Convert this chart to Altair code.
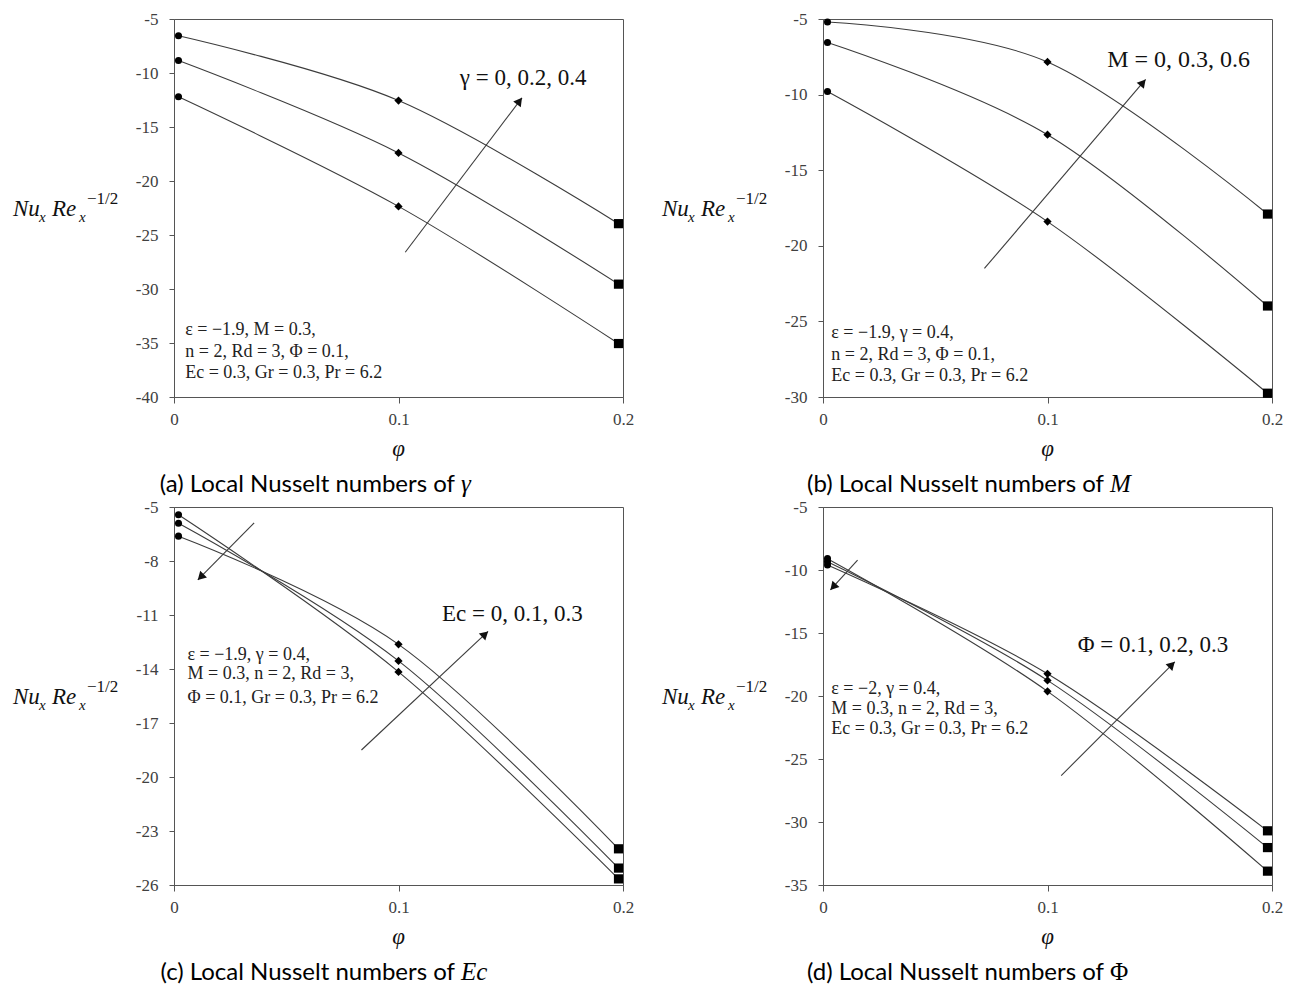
import math
import altair as alt
import pandas as pd

# ---------------- data ----------------
PHI = [0.002, 0.1, 0.198]
SHAPES = ["circle", "diamond", "square"]

A_NAMES = ["γ = 0", "γ = 0.2", "γ = 0.4"]
A_VALUES = [[-12.2, -22.35, -35.05], [-8.85, -17.4, -29.55], [-6.55, -12.55, -23.95]]

B_NAMES = ["M = 0", "M = 0.3", "M = 0.6"]
B_VALUES = [[-9.8, -18.4, -29.75], [-6.55, -12.65, -23.98], [-5.2, -7.84, -17.9]]

C_NAMES = ["Ec = 0", "Ec = 0.1", "Ec = 0.3"]
C_VALUES = [[-5.43, -14.16, -25.66], [-5.9, -13.55, -25.06], [-6.62, -12.63, -23.99]]

D_NAMES = ["Φ = 0.1", "Φ = 0.2", "Φ = 0.3"]
D_VALUES = [[-9.1, -19.63, -33.9], [-9.35, -18.76, -32.03], [-9.6, -18.24, -30.7]]

X_TICKS = [0, 0.1, 0.2]
A_YTICKS = [-5, -10, -15, -20, -25, -30, -35, -40]
B_YTICKS = [-5, -10, -15, -20, -25, -30]
C_YTICKS = [-5, -8, -11, -14, -17, -20, -23, -26]
D_YTICKS = [-5, -10, -15, -20, -25, -30, -35]

# ---------------- layout / annotations ----------------
W, H = 449, 378
XDOM = [0, 0.2]
LINE_COLOR = "#3c3c3c"
AX_COLOR = "#555555"
SERIF = "Liberation Serif"
ONE = pd.DataFrame({"k": [0]})

PANELS = [
    dict(names=A_NAMES, values=A_VALUES, ydom=[-40, -5], yticks=A_YTICKS,
         label="γ = 0,  0.2,  0.4", label_pos=(0.1273, -10.42), label_size=23,
         params=["ε = −1.9, M = 0.3,", "n = 2, Rd = 3, Φ = 0.1,", "Ec = 0.3, Gr = 0.3, Pr = 6.2"],
         params_x=0.005, params_y=[-33.8, -35.8, -37.8],
         arrows=[(0.103, -26.6, 0.155, -12.3)],
         caption=("(a) Local Nusselt numbers of", "γ", "italic")),
    dict(names=B_NAMES, values=B_VALUES, ydom=[-30, -5], yticks=B_YTICKS,
         label="M = 0,  0.3,  0.6", label_pos=(0.1266, -7.73), label_size=24,
         params=["ε = −1.9, γ = 0.4,", "n = 2, Rd = 3, Φ = 0.1,", "Ec = 0.3, Gr = 0.3, Pr = 6.2"],
         params_x=0.0037, params_y=[-25.78, -27.2, -28.62],
         arrows=[(0.0719, -21.5, 0.1437, -9.0)],
         caption=("(b) Local Nusselt numbers of", "M", "italic")),
    dict(names=C_NAMES, values=C_VALUES, ydom=[-26, -5], yticks=C_YTICKS,
         label="Ec = 0,  0.1,  0.3", label_pos=(0.1194, -10.97), label_size=23,
         params=["ε = −1.9, γ = 0.4,", "M = 0.3, n = 2, Rd = 3,", "Φ = 0.1, Gr = 0.3, Pr = 6.2"],
         params_x=0.006, params_y=[-13.2, -14.3, -15.6],
         arrows=[(0.0835, -18.5, 0.1399, -11.91), (0.0357, -5.88, 0.0106, -9.05)],
         caption=("(c) Local Nusselt numbers of", "Ec", "italic")),
    dict(names=D_NAMES, values=D_VALUES, ydom=[-35, -5], yticks=D_YTICKS,
         label="Φ = 0.1,  0.2,  0.3", label_pos=(0.1135, -15.97), label_size=23,
         params=["ε = −2, γ = 0.4,", "M = 0.3, n = 2, Rd = 3,", "Ec = 0.3, Gr = 0.3, Pr = 6.2"],
         params_x=0.0037, params_y=[-19.45, -21.0, -22.6],
         arrows=[(0.1061, -26.32, 0.1567, -17.29), (0.0154, -9.21, 0.0033, -11.58)],
         caption=("(d) Local Nusselt numbers of", "Φ", "normal")),
]

HEAD_SIZE = 90


def arrow_layers(x1, y1, x2, y2, ydom):
    xr = XDOM[1] - XDOM[0]
    yr = ydom[1] - ydom[0]
    dxp = (x2 - x1) / xr * W
    dyp = -(y2 - y1) / yr * H
    L = math.hypot(dxp, dyp)
    ux, uy = dxp / L, dyp / L
    angle = math.degrees(math.atan2(ux, -uy)) % 360
    h = math.sqrt(3) / 2 * math.sqrt(HEAD_SIZE) / 2
    cx = x2 - h * ux * xr / W
    cy = y2 + h * uy * yr / H
    rule = alt.Chart(ONE).mark_rule(color=LINE_COLOR, strokeWidth=1.1).encode(
        x=alt.datum(x1), y=alt.datum(y1), x2=alt.datum(x2), y2=alt.datum(y2))
    head = alt.Chart(ONE).mark_point(shape="triangle-up", filled=True, opacity=1,
                                     size=HEAD_SIZE, angle=angle, color="#111").encode(
        x=alt.datum(cx), y=alt.datum(cy))
    return [rule, head]


def text_value(txt, x, y, size, style="normal", font=SERIF, align="left", baseline="alphabetic", color="#111"):
    return alt.Chart(ONE).mark_text(text=txt, font=font, fontSize=size, fontStyle=style,
                                    align=align, baseline=baseline, color=color).encode(
        x=alt.value(x), y=alt.value(y))


def make_panel(p):
    rows = []
    for name, vals in zip(p["names"], p["values"]):
        for i, (phi, v) in enumerate(zip(PHI, vals)):
            rows.append({"phi": phi, "val": v, "series": name, "pt": SHAPES[i]})
    df = pd.DataFrame(rows)

    xs = alt.Scale(domain=XDOM, nice=False, zero=False)
    ys = alt.Scale(domain=p["ydom"], nice=False, zero=False)
    X = alt.X("phi:Q", scale=xs, axis=alt.Axis(
        values=X_TICKS, labelExpr="'' + datum.value", title=None, grid=False,
        tickSize=6, labelPadding=8, labelFlush=False, labelOverlap=False))
    Y = alt.Y("val:Q", scale=ys, axis=alt.Axis(
        values=p["yticks"], labelExpr="'' + datum.value", title=None, grid=False,
        tickSize=5, labelPadding=11, labelFlush=False, labelOverlap=False))

    layers = []
    layers.append(alt.Chart(df).mark_line(interpolate="cardinal", color=LINE_COLOR, strokeWidth=1.1)
                  .encode(x=X, y=Y, detail="series:N"))
    layers.append(alt.Chart(df).mark_point(filled=True, opacity=1, color="#000")
                  .encode(x=X, y=Y,
                          shape=alt.Shape("pt:N", scale=alt.Scale(domain=SHAPES, range=SHAPES), legend=None),
                          size=alt.Size("pt:N", scale=alt.Scale(domain=SHAPES, range=[50, 85, 60]), legend=None)))
    for a in p["arrows"]:
        layers += arrow_layers(*a, p["ydom"])

    lx, ly = p["label_pos"]
    layers.append(alt.Chart(ONE).mark_text(text=p["label"], font=SERIF, fontSize=p["label_size"],
                                           align="left", baseline="middle", color="#111")
                  .encode(x=alt.datum(lx), y=alt.datum(ly)))
    for txt, py in zip(p["params"], p["params_y"]):
        layers.append(alt.Chart(ONE).mark_text(text=txt, font=SERIF, fontSize=18,
                                               align="left", baseline="middle", color="#222")
                      .encode(x=alt.datum(p["params_x"]), y=alt.datum(py)))

    # y-axis label  Nu_x Re_x^(-1/2)
    bx, by = -161, round(0.52 * H)
    layers.append(text_value("Nu", bx, by, 23, "italic"))
    layers.append(text_value("x", bx + 26, by + 6, 15, "italic"))
    layers.append(text_value("Re", bx + 39, by, 23, "italic"))
    layers.append(text_value("x", bx + 66, by + 6, 15, "italic"))
    layers.append(text_value("−1/2", bx + 74, by - 12, 17))

    # x-axis label
    layers.append(text_value("φ", W / 2, H + 52, 23, "italic", align="center", baseline="middle"))

    # caption
    main, sym, sym_style = p["caption"]
    layers.append(text_value(main, 281, H + 95, 24, font="Lato", align="right", color="#000"))
    layers.append(text_value(sym, 287, H + 95, 25, sym_style, align="left", color="#000"))

    return alt.layer(*layers).properties(width=W, height=H)


panels = [make_panel(p) for p in PANELS]
chart = alt.concat(*panels, columns=2, spacing={"row": 110, "column": 200}, bounds="flush").properties(
    padding={"left": 12, "top": 9, "right": 5, "bottom": 2},
    background="white",
).configure_view(stroke=AX_COLOR, strokeWidth=1).configure_axis(
    labelFont=SERIF, labelFontSize=17, labelColor="#404040",
    domainColor=AX_COLOR, tickColor=AX_COLOR, domainWidth=1, tickWidth=1,
)

chart.save("out.html", embed_options={"renderer": "svg", "actions": False})
